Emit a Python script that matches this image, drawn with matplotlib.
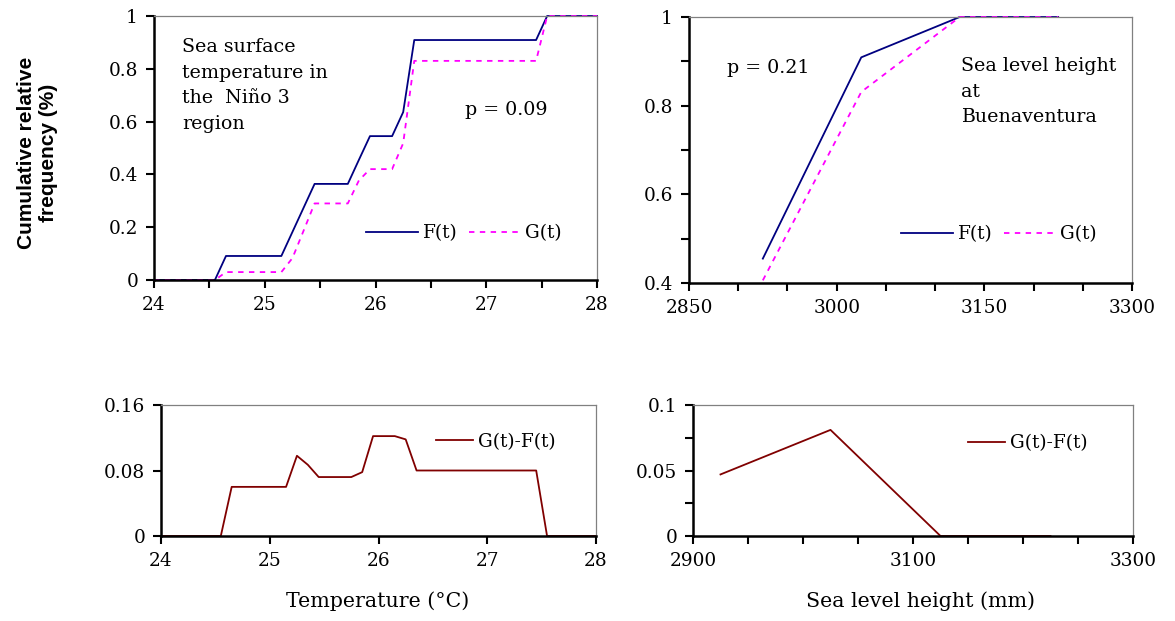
import matplotlib
matplotlib.use("Agg")
import matplotlib.pyplot as plt
from matplotlib.ticker import MultipleLocator, FixedLocator, FuncFormatter

# --- data ---
# Nino 3 sea surface temperature (deg C)
sst_x = [24.0, 24.55, 24.65, 25.15, 25.25, 25.35, 25.45, 25.75, 25.85,
         25.95, 26.15, 26.25, 26.35, 27.45, 27.55, 28.0]
sst_F = [0.0, 0.0, 0.091, 0.091, 0.182, 0.273, 0.364, 0.364, 0.455,
         0.545, 0.545, 0.636, 0.909, 0.909, 1.0, 1.0]
sst_G = [0.0, 0.0, 0.03, 0.03, 0.083, 0.186, 0.29, 0.29, 0.377,
         0.42, 0.42, 0.518, 0.83, 0.83, 1.0, 1.0]
sst_D = [0.0, 0.0, 0.06, 0.06, 0.098, 0.087, 0.072, 0.072, 0.078,
         0.122, 0.122, 0.118, 0.08, 0.08, 0.0, 0.0]

# Buenaventura sea level height (mm)
slh_x = [2925, 3025, 3125, 3225]
slh_F = [0.455, 0.909, 1.0, 1.0]
slh_G = [0.406, 0.831, 1.0, 1.0]
slh_D = [0.047, 0.081, 0.0, 0.0]

SERIF = "DejaVu Serif"
FS_TICK = 13.3
FS_LEG = 13.3
FS_NOTE = 13.7
FS_XLAB = 14.8
C_F = "#000080"
C_G = "#ff00ff"
C_D = "#800000"

plt.rcParams["font.family"] = SERIF

W, H = 1175, 621
fig = plt.figure(figsize=(W / 100, H / 100), dpi=100)


def px_axes(x0, y0, x1, y1):
    return fig.add_axes([x0 / W, 1 - y1 / H, (x1 - x0) / W, (y1 - y0) / H])


def px(x, y):
    return x / W, 1 - y / H


def style(ax):
    for s in ("left", "bottom"):
        ax.spines[s].set_color("black")
        ax.spines[s].set_linewidth(1.8)
    for s in ("top", "right"):
        ax.spines[s].set_color("#808080")
        ax.spines[s].set_linewidth(0.9)
    ax.tick_params(which="both", direction="out", length=5.5, width=1.5,
                   colors="black", labelsize=FS_TICK, top=False, right=False)
    ax.tick_params(axis="y", pad=6)
    ax.tick_params(axis="x", pad=6)


def fmt_num(v, pos):
    if abs(v) < 1e-9:
        return "0"
    return f"{v:g}"


def legend(ax, x, y, ncol, hl):
    ax.legend(loc="center left", bbox_to_anchor=(x, y), ncol=ncol,
              frameon=False, handlelength=hl, handletextpad=0.27,
              columnspacing=0.6, borderpad=0, borderaxespad=0,
              fontsize=FS_LEG)


ax1 = px_axes(154, 16, 597, 280)
ax2 = px_axes(689, 17, 1132, 283)
ax3 = px_axes(161, 405, 596, 536)
ax4 = px_axes(693, 405, 1133, 536)

# (a) SST cumulative
ax1.plot(sst_x, sst_F, color=C_F, lw=1.3, label="F(t)", clip_on=False)
ax1.plot(sst_x, sst_G, color=C_G, lw=1.3, ls=(0, (3, 3)), label="G(t)",
         clip_on=False)
ax1.set_xlim(24, 28)
ax1.set_ylim(0, 1)
ax1.xaxis.set_major_locator(MultipleLocator(1))
ax1.xaxis.set_minor_locator(MultipleLocator(0.5))
ax1.yaxis.set_major_locator(MultipleLocator(0.2))
ax1.yaxis.set_major_formatter(FuncFormatter(fmt_num))
style(ax1)
legend(ax1, 0.479, 0.178, 2, 2.8)

# (b) sea level cumulative
ax2.plot(slh_x, slh_F, color=C_F, lw=1.3, label="F(t)", clip_on=False)
ax2.plot(slh_x, slh_G, color=C_G, lw=1.3, ls=(0, (3, 3)), label="G(t)",
         clip_on=False)
ax2.set_xlim(2850, 3300)
ax2.set_ylim(0.4, 1)
ax2.xaxis.set_major_locator(FixedLocator([2850, 3000, 3150, 3300]))
ax2.xaxis.set_minor_locator(MultipleLocator(50))
ax2.yaxis.set_major_locator(FixedLocator([0.4, 0.6, 0.8, 1.0]))
ax2.yaxis.set_minor_locator(FixedLocator([0.5, 0.7, 0.9]))
ax2.yaxis.set_major_formatter(FuncFormatter(fmt_num))
style(ax2)
legend(ax2, 0.479, 0.184, 2, 2.8)

# (c) SST difference
ax3.plot(sst_x, sst_D, color=C_D, lw=1.3, label="G(t)-F(t)")
ax3.set_xlim(24, 28)
ax3.set_ylim(0, 0.16)
ax3.xaxis.set_major_locator(MultipleLocator(1))
ax3.yaxis.set_major_locator(FixedLocator([0, 0.08, 0.16]))
ax3.yaxis.set_major_formatter(FuncFormatter(fmt_num))
style(ax3)
legend(ax3, 0.632, 0.718, 1, 2.0)
fig.text(*px(378, 601), "Temperature (°C)", ha="center", va="center",
         fontsize=FS_XLAB)

# (d) sea level difference
ax4.plot(slh_x, slh_D, color=C_D, lw=1.3, label="G(t)-F(t)")
ax4.set_xlim(2900, 3300)
ax4.set_ylim(0, 0.1)
ax4.xaxis.set_major_locator(FixedLocator([2900, 3100, 3300]))
ax4.xaxis.set_minor_locator(MultipleLocator(50))
ax4.yaxis.set_major_locator(FixedLocator([0, 0.05, 0.1]))
ax4.yaxis.set_minor_locator(FixedLocator([0.025, 0.075]))
ax4.yaxis.set_major_formatter(FuncFormatter(fmt_num))
style(ax4)
legend(ax4, 0.625, 0.71, 1, 2.0)
fig.text(*px(920, 601), "Sea level height (mm)", ha="center", va="center",
         fontsize=FS_XLAB)

# annotations
fig.text(*px(182, 38), "Sea surface\ntemperature in\nthe  Niño 3\nregion",
         ha="left", va="top", fontsize=FS_NOTE, linespacing=1.55)
fig.text(*px(465, 110), "p = 0.09", ha="left", va="center", fontsize=FS_NOTE)
fig.text(*px(727, 68), "p = 0.21", ha="left", va="center", fontsize=FS_NOTE)
fig.text(*px(961, 57), "Sea level height\nat\nBuenaventura",
         ha="left", va="top", fontsize=FS_NOTE, linespacing=1.55)

fig.text(*px(38, 153), "Cumulative relative\nfrequency (%)", rotation=90,
         ha="center", va="center", multialignment="center",
         family="Liberation Sans", fontweight="bold", fontsize=15)

fig.savefig("out.png", dpi=100, facecolor="white")
